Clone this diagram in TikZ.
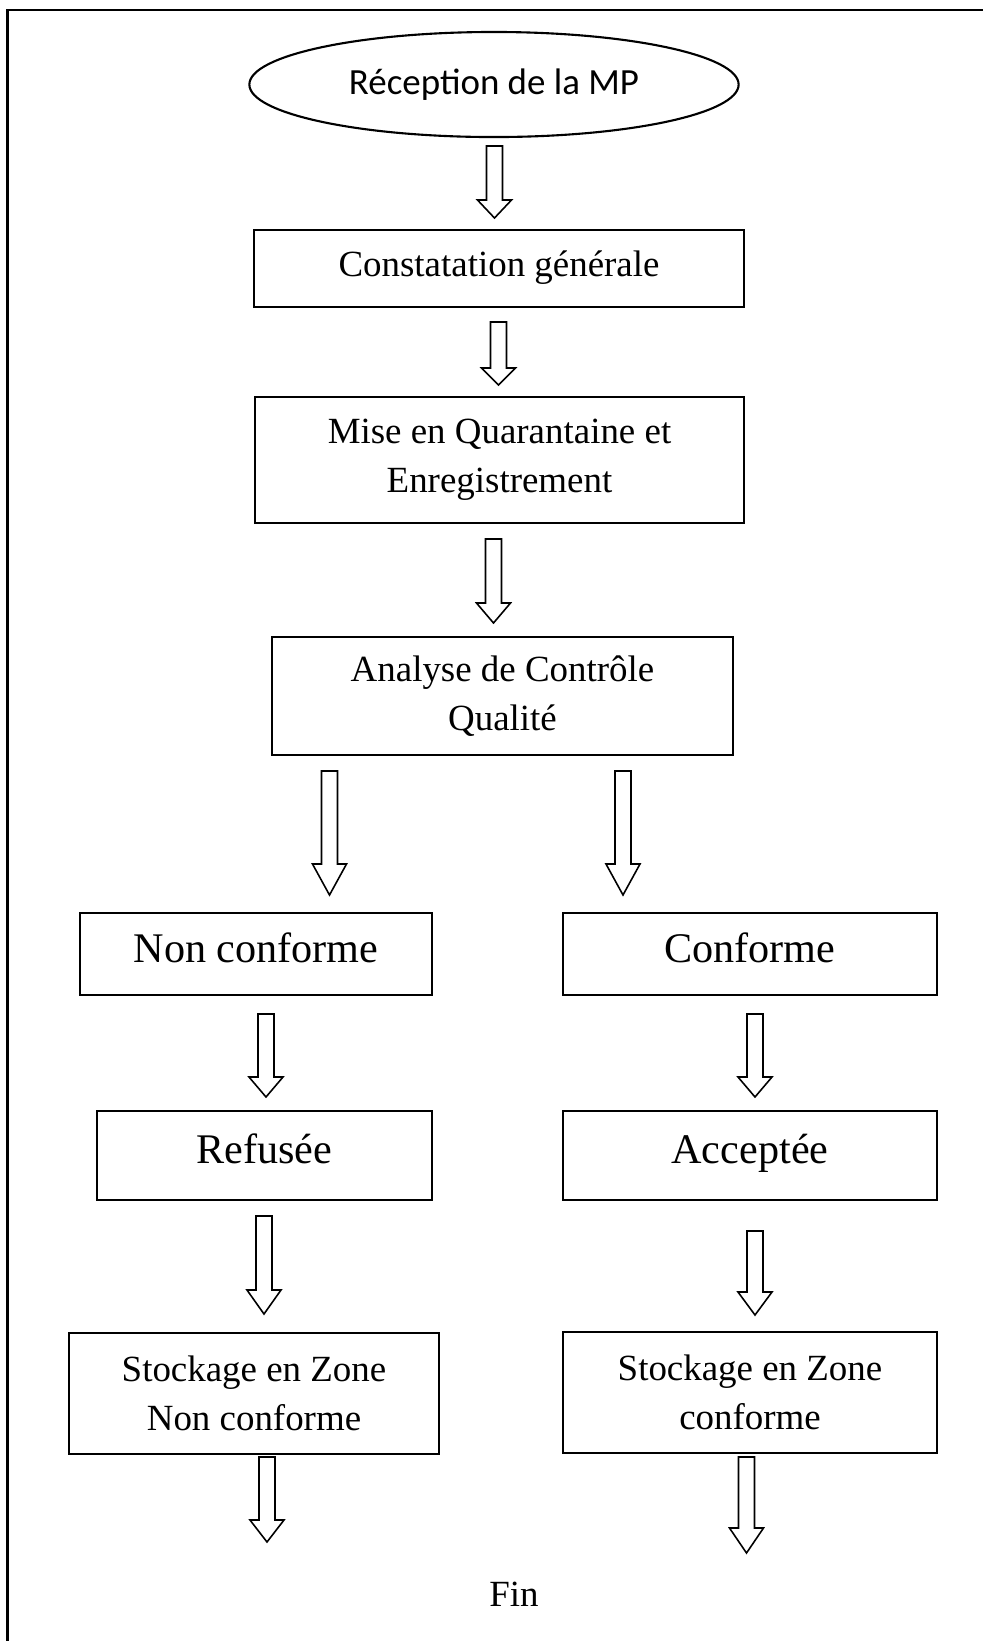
\documentclass[tikz,border=0pt]{standalone}
\usepackage{fontspec}
\setmainfont{Liberation Serif}
\newfontfamily\calibrifont{Carlito}
\usetikzlibrary{shapes.geometric,calc}

% hollow block arrow: top of shaft, tip, head length
\newcommand{\blockarrow}[3]{%
  \draw[hollow] ($(#1)+(-8,0)$) -- ($(#1)+(8,0)$) -- ($(#2)+(8,-#3)$) -- ($(#2)+(17,-#3)$)
    -- (#2) -- ($(#2)+(-17,-#3)$) -- ($(#2)+(-8,-#3)$) -- cycle;}

\begin{document}
\begin{tikzpicture}[x=0.01cm, y=-0.01cm,
    box/.style={draw, line width=0.6pt, inner sep=0pt, align=center,
      font=\fontsize{10.5}{13.8}\selectfont},
    onebox/.style={box, text height=7.4pt, text depth=3pt},
    bigbox/.style={box, font=\fontsize{12}{14}\selectfont, text height=8.4pt, text depth=3.6pt},
    hollow/.style={draw, line width=0.45pt, fill=white, line join=miter}]
    \useasboundingbox (0,0) rectangle (983,1641);

    % Frame
    \draw[line width=0.6pt] (7.5,1641) -- (7.5,10) -- (983,10);

    % Start
    \node[ellipse, draw, line width=0.6pt, minimum width=4.89cm, minimum height=1.05cm,
      inner sep=0pt, font=\calibrifont\fontsize{10.5}{13}\selectfont] (recep) at (494,84.5) {Réception de la MP};

    % Main column
    \node[onebox, minimum width=4.90cm, minimum height=0.77cm] (constat) at (499,268.5) {Constatation générale};
    \node[box, minimum width=4.89cm, minimum height=1.26cm] (quarant) at (499.5,460) {Mise en Quarantaine et\\Enregistrement};
    \node[box, minimum width=4.61cm, minimum height=1.18cm] (analyse) at (502.5,696) {Analyse de Contrôle\\Qualité};

    % Left branch
    \node[bigbox, minimum width=3.52cm, minimum height=0.82cm] (nonconf) at (256,954) {Non conforme};
    \node[bigbox, minimum width=3.35cm, minimum height=0.89cm] (refus) at (264.5,1155.5) {Refusée};
    \node[box, minimum width=3.70cm, minimum height=1.21cm] (stocknc) at (254,1393.5) {Stockage en Zone\\Non conforme};

    % Right branch
    \node[bigbox, minimum width=3.74cm, minimum height=0.82cm] (conf) at (750,954) {Conforme};
    \node[bigbox, minimum width=3.74cm, minimum height=0.89cm] (accept) at (750,1155.5) {Acceptée};
    \node[box, minimum width=3.74cm, minimum height=1.21cm] (stockc) at (750,1392.5) {Stockage en Zone\\conforme};

    % End
    \node[font=\fontsize{10.5}{13}\selectfont] (fin) at (514,1594) {Fin};

    % Arrow ends
    \coordinate (a1s) at (494.5,146);  \coordinate (a1e) at (494.5,218);
    \coordinate (a2s) at (498.5,322);  \coordinate (a2e) at (498.5,385);
    \coordinate (a3s) at (493.5,539);  \coordinate (a3e) at (493.5,623);
    \coordinate (a4s) at (329.5,771);  \coordinate (a4e) at (329.5,895);
    \coordinate (a5s) at (623,771);    \coordinate (a5e) at (623,895);
    \coordinate (a6s) at (266,1014);   \coordinate (a6e) at (266,1097);
    \coordinate (a7s) at (755,1014);   \coordinate (a7e) at (755,1097);
    \coordinate (a8s) at (264,1216);   \coordinate (a8e) at (264,1314);
    \coordinate (a9s) at (755,1231);   \coordinate (a9e) at (755,1315);
    \coordinate (a10s) at (267,1457);  \coordinate (a10e) at (267,1542);
    \coordinate (a11s) at (746.5,1457); \coordinate (a11e) at (746.5,1553);

    % Arrows
    \blockarrow{a1s}{a1e}{18}
    \blockarrow{a2s}{a2e}{17}
    \blockarrow{a3s}{a3e}{20}
    \blockarrow{a4s}{a4e}{31}
    \blockarrow{a5s}{a5e}{31}
    \blockarrow{a6s}{a6e}{20}
    \blockarrow{a7s}{a7e}{20}
    \blockarrow{a8s}{a8e}{24}
    \blockarrow{a9s}{a9e}{23}
    \blockarrow{a10s}{a10e}{22}
    \blockarrow{a11s}{a11e}{25}
\end{tikzpicture}
\end{document}
